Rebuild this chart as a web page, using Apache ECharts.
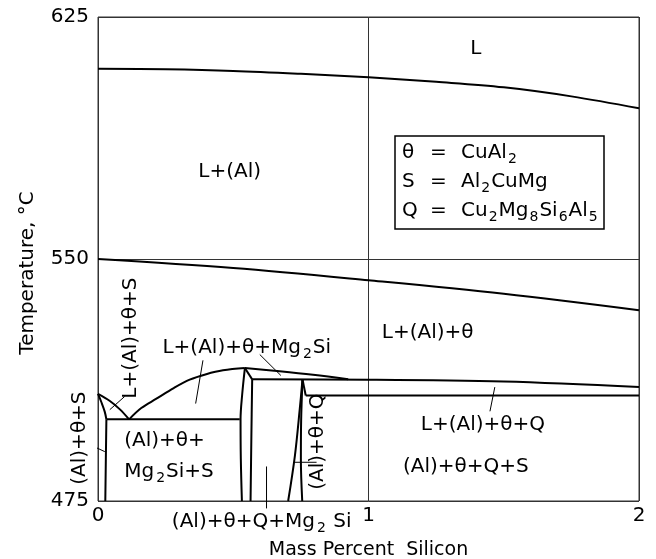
<!DOCTYPE html>
<html>
<head>
<meta charset="utf-8">
<script src="https://cdn.jsdelivr.net/npm/echarts@6/dist/echarts.min.js"></script>
<style>
  html, body { margin: 0; padding: 0; background: #fff; }
  #chart { width: 656px; height: 559px; }
</style>
</head>
<body>
<div id="chart"></div>
<script>
// Axis ticks
const siTicks = [0, 1, 2];          // mass percent silicon
const tempTicks = [475, 550, 625];  // temperature, °C

// Phase boundaries as [mass % Si, temperature °C]
const liquidus = [[0, 609.0], [0.25, 608.8], [0.5, 608.3], [0.75, 607.4], [1.0, 606.3], [1.25, 604.9], [1.5, 603.2], [1.75, 600.4], [2.0, 596.7]];
const thetaLiquidus = [[0, 550.0], [0.5, 547.2], [1.0, 543.4], [1.5, 539.2], [2.0, 534.1]];
const mg2SiDome = [[0.115, 500.3], [0.16, 503.8], [0.216, 506.7], [0.28, 510.0], [0.339, 512.6], [0.40, 514.3], [0.462, 515.5], [0.543, 516.2]];
const domeTail = [[0.543, 516.2], [0.672, 515.2], [0.795, 514.1], [0.925, 512.7]];
const qLiquidus = [[0.570, 512.7], [1.0, 512.6], [1.5, 512.0], [2.0, 510.3]];
const sEutectic = [[0.031, 500.3], [0.524, 500.3]];
const sSolvus = [[0.031, 500.3], [0.029, 488], [0.027, 475]];
const lensLeft = [[0, 508.2], [0.0126, 505.6], [0.0248, 502.7], [0.031, 500.3]];
const lensRight = [[0, 508.2], [0.044, 506.0], [0.081, 503.4], [0.115, 500.3]];
const mg2SiWallA = [[0.543, 516.2], [0.533, 508.0], [0.527, 500.3], [0.528, 488.0], [0.532, 475]];
const mg2SiWallB = [[0.570, 512.7], [0.567, 495.0], [0.564, 475]];
const mg2SiTie = [[0.543, 516.2], [0.570, 512.7]];
const qWallLeft = [[0.756, 512.7], [0.746, 503.6], [0.728, 489.1], [0.703, 475]];
const qWallRight = [[0.756, 512.7], [0.751, 500.0], [0.750, 488.0], [0.755, 475]];
const qTie = [[0.756, 512.7], [0.768, 507.7]];
const qEutectic = [[0.768, 507.7], [2.0, 507.7]];

const boundaries = [liquidus, thetaLiquidus, mg2SiDome, domeTail, qLiquidus, sEutectic, sSolvus,
  lensLeft, lensRight, mg2SiWallA, mg2SiWallB, mg2SiTie, qWallLeft, qWallRight, qTie, qEutectic];
const curved = [true, true, true, true, true, false, false, true, true, true, true, false, true, true, false, false];

// Phase field names and where they sit (mass % Si, °C)
const regionNames = ['L', 'L+(Al)', 'L+(Al)+θ', 'L+(Al)+θ+Mg{s|2}Si', 'L+(Al)+θ+S', '(Al)+θ+S',
  '(Al)+θ+', 'Mg{s|2}Si+S', '(Al)+θ+Q', '(Al)+θ+Q+Mg{s|2} Si', 'L+(Al)+θ+Q', '(Al)+θ+Q+S'];
const regionAnchors = [[1.397, 615.0], [0.487, 576.9], [1.219, 527.0], [0.550, 522.5], [0.121, 525.5], [-0.066, 494.5],
  [0.097, 493.8], [0.097, 484.0], [0.813, 493.4], [0.605, 468.6], [1.423, 498.7], [1.360, 485.7]];
const regionRotate = [0, 0, 0, 0, 90, 90, 0, 0, 90, 0, 0, 0];
const regionAlign = ['c', 'c', 'c', 'c', 'c', 'c', 'l', 'l', 'c', 'c', 'c', 'c'];

// Leader lines from names to their fields
const leaders = [
  [[0.388, 518.6], [0.361, 505.2]],
  [[0.598, 520.4], [0.676, 513.9]],
  [[0.0436, 503.3], [0.0987, 507.4]],
  [[-0.031, 492.5], [0.025, 490.3]],
  [[0.727, 487.0], [0.808, 487.0]],
  [[0.623, 485.7], [0.623, 472.7]],
  [[1.467, 510.3], [1.449, 502.8]]
];

// Phase key
const keySymbols = ['θ', 'S', 'Q'];
const keyFormulas = ['CuAl{s|2}', 'Al{s|2}CuMg', 'Cu{s|2}Mg{s|8}Si{s|6}Al{s|5}'];

const FONT = '"DejaVu Sans", Verdana, sans-serif';
const INK = '#000';
const rich = {
  s: { fontSize: 14, fontFamily: FONT, color: INK, textBorderWidth: 0, padding: [13, 1, 0, 2] }
};

const series = [];
boundaries.forEach((pts, i) => {
  series.push({
    type: 'line', data: pts, smooth: curved[i] ? 0.35 : false,
    symbol: 'none', silent: true, clip: false,
    lineStyle: { color: INK, width: 2 }
  });
});
leaders.forEach(pts => {
  series.push({
    type: 'line', data: pts, symbol: 'none', silent: true, clip: false,
    lineStyle: { color: INK, width: 1 }
  });
});
series.push({
  type: 'scatter', symbolSize: 0, silent: true, clip: false,
  itemStyle: { color: INK, opacity: 1 },
  data: regionNames.map((name, i) => ({
    value: regionAnchors[i],
    label: {
      show: true,
      formatter: name,
      rotate: regionRotate[i],
      position: regionAlign[i] === 'l' ? 'right' : 'inside',
      distance: 0,
      opacity: 1,
      fontSize: 20, fontFamily: FONT, color: INK,
      textBorderWidth: 0, textBorderColor: 'transparent',
      rich: rich
    }
  }))
});

const graphic = [{
  type: 'rect', shape: { x: 395, y: 136, width: 209, height: 93 },
  style: { fill: 'none', stroke: INK, lineWidth: 1.5 }, silent: true
}];
keySymbols.forEach((sym, i) => {
  const y = 153 + i * 29;
  graphic.push({ type: 'text', x: 402, y: y, silent: true,
    style: { text: sym, fontSize: 20, fontFamily: FONT, fill: INK, align: 'left', verticalAlign: 'middle' } });
  graphic.push({ type: 'text', x: 430, y: y, silent: true,
    style: { text: '=', fontSize: 20, fontFamily: FONT, fill: INK, align: 'left', verticalAlign: 'middle' } });
  graphic.push({ type: 'text', x: 461, y: y, silent: true,
    style: { text: keyFormulas[i], fontSize: 20, fontFamily: FONT, fill: INK, align: 'left', verticalAlign: 'middle',
      rich: { s: { fontSize: 14, fontFamily: FONT, fill: INK, padding: [13, 1, 0, 1] } } } });
});

const chart = echarts.init(document.getElementById('chart'));
chart.setOption({
  animation: false,
  backgroundColor: '#fff',
  grid: { left: 98, right: 17, top: 17, bottom: 58, outerBoundsMode: 'none', containLabel: false,
    show: true, borderColor: '#333', borderWidth: 1, backgroundColor: 'transparent' },
  xAxis: {
    type: 'value', min: siTicks[0], max: siTicks[siTicks.length - 1], interval: 1,
    name: 'Mass Percent  Silicon', nameLocation: 'middle', nameGap: 40,
    nameTextStyle: { fontSize: 19, fontFamily: FONT, color: INK },
    axisLine: { show: false }, axisTick: { show: false },
    axisLabel: { fontSize: 20, fontFamily: FONT, color: INK, margin: 5 },
    splitLine: { show: true, lineStyle: { color: '#333', width: 1 } }
  },
  yAxis: {
    type: 'value', min: tempTicks[0], max: tempTicks[tempTicks.length - 1], interval: 75,
    name: 'Temperature, °C', nameLocation: 'middle', nameGap: 60,
    nameTextStyle: { fontSize: 20, fontFamily: FONT, color: INK, padding: [0, 28, 0, 0] },
    axisLine: { show: false }, axisTick: { show: false },
    axisLabel: { fontSize: 20, fontFamily: FONT, color: INK, margin: 9 },
    splitLine: { show: true, lineStyle: { color: '#333', width: 1 } }
  },
  graphic: graphic,
  series: series
});
</script>
</body>
</html>
